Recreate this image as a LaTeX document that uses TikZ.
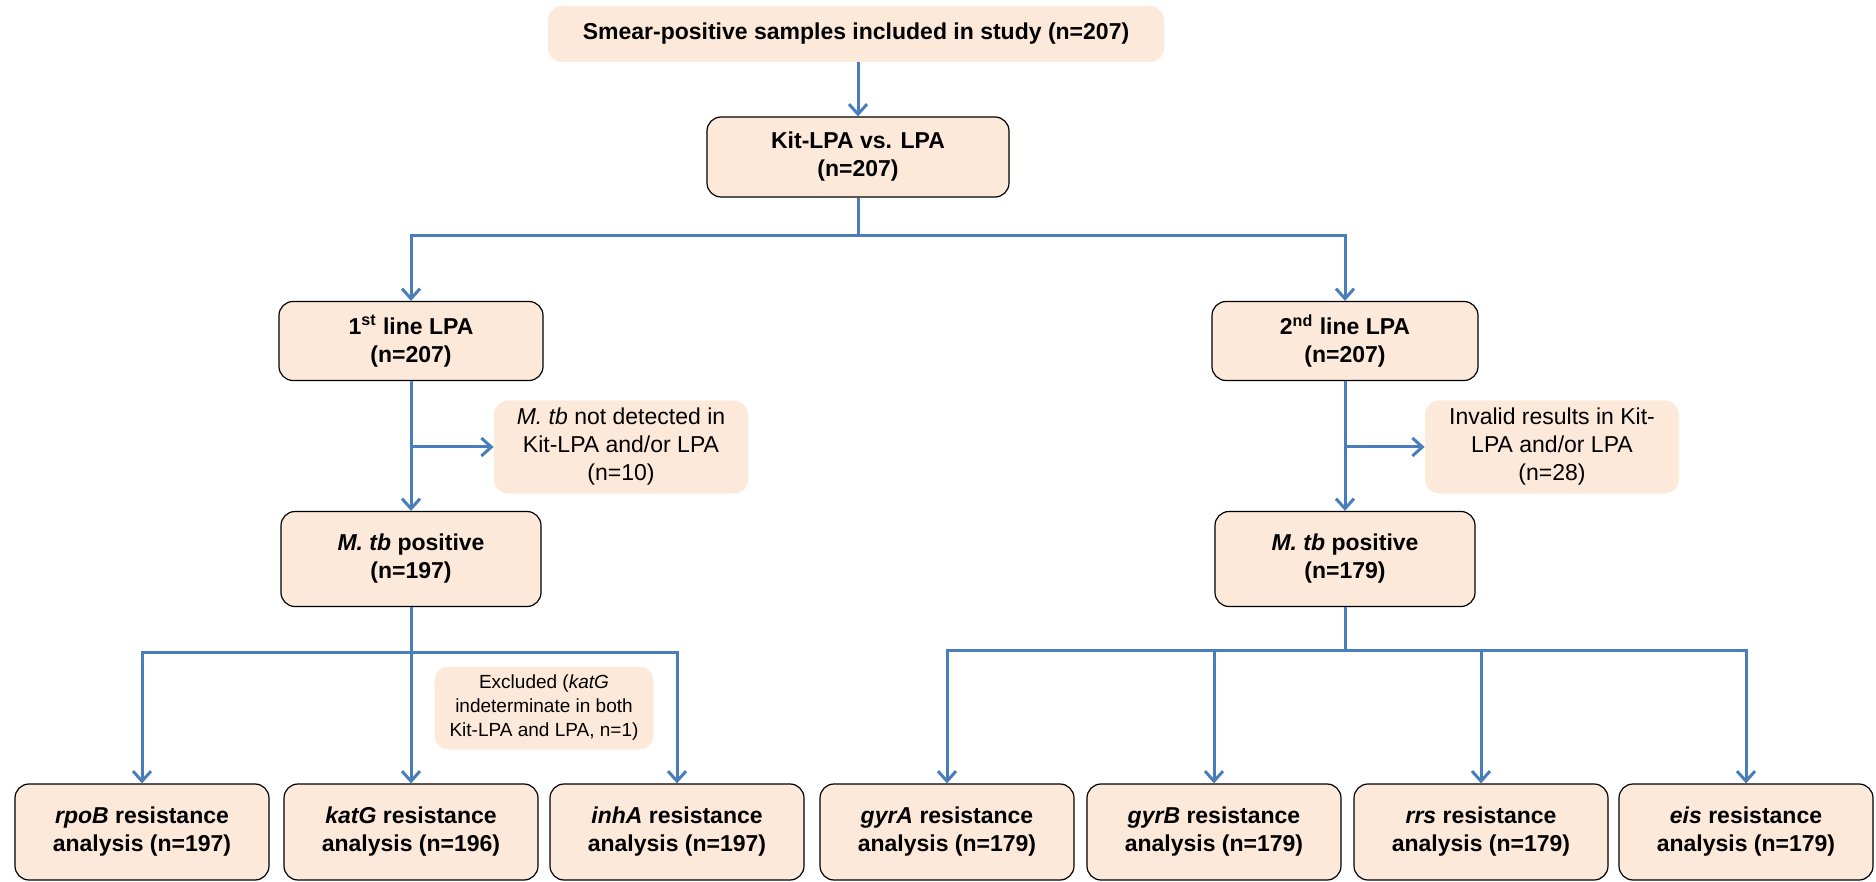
\documentclass[tikz,border=0pt]{standalone}
\usepackage{fontspec}
\setmainfont{Liberation Sans}
\usepackage{tikz}
\usetikzlibrary{arrows.meta}

\definecolor{peach}{RGB}{253,233,217}
\definecolor{flowblue}{RGB}{74,126,187}

\begin{document}
\begin{tikzpicture}[x=0.5pt,y=-0.5pt,
	mainbox/.style = {draw=black, line width=0.6pt, fill=peach, rounded corners=7pt, align=center,
		font=\fontsize{11.5}{14}\selectfont\bfseries, inner sep=0pt},
	notebox/.style = {fill=peach, rounded corners=7pt, align=center,
		font=\fontsize{11.5}{14}\selectfont, inner sep=0pt},
	flow/.style = {draw=flowblue, line width=1.5pt, -{Straight Barb[length=5pt,width=9pt]}},
	trunk/.style = {draw=flowblue, line width=1.5pt}]
	\useasboundingbox (0,0) rectangle (1876,882);
	% top of the chart
	\node[notebox, font=\fontsize{11.5}{14}\selectfont\bfseries, minimum width=308pt, minimum height=28pt] (smear) at (856,34) {Smear-positive samples included in study (n=207)};
	\node[mainbox, minimum width=151pt, minimum height=40pt] (kit) at (858,157) {Kit-LPA vs. LPA\\(n=207)};
	% the two arms
	\node[mainbox, minimum width=132pt, minimum height=39.5pt] (first) at (411,341) {1\textsuperscript{st} line LPA\\(n=207)};
	\node[mainbox, minimum width=133pt, minimum height=39.5pt] (second) at (1345,341) {2\textsuperscript{nd} line LPA\\(n=207)};
	\node[notebox, minimum width=127pt, minimum height=46.5pt] (notdet) at (621,447) {\textit{M. tb} not detected in\\Kit-LPA and/or LPA\\(n=10)};
	\node[notebox, minimum width=127pt, minimum height=46.5pt] (invalid) at (1552,447) {Invalid results in Kit-\\LPA and/or LPA\\(n=28)};
	\node[mainbox, minimum width=130pt, minimum height=47.5pt] (mtbone) at (411,559) {\textit{M. tb} positive\\(n=197)};
	\node[mainbox, minimum width=130pt, minimum height=47.5pt] (mtbtwo) at (1345,559) {\textit{M. tb} positive\\(n=179)};
	\node[notebox, font=\fontsize{9.5}{12}\selectfont, minimum width=109.5pt, minimum height=41.5pt] (excl) at (544,708) {Excluded (\textit{katG}\\indeterminate in both\\Kit-LPA and LPA, n=1)};
	% genes
	\node[mainbox, minimum width=127pt, minimum height=48pt] (rpob) at (142,832) {\textit{rpoB} resistance\\analysis (n=197)};
	\node[mainbox, minimum width=127pt, minimum height=48pt] (katg) at (411,832) {\textit{katG} resistance\\analysis (n=196)};
	\node[mainbox, minimum width=127pt, minimum height=48pt] (inha) at (677,832) {\textit{inhA} resistance\\analysis (n=197)};
	\node[mainbox, minimum width=127pt, minimum height=48pt] (gyra) at (947,832) {\textit{gyrA} resistance\\analysis (n=179)};
	\node[mainbox, minimum width=127pt, minimum height=48pt] (gyrb) at (1214,832) {\textit{gyrB} resistance\\analysis (n=179)};
	\node[mainbox, minimum width=127pt, minimum height=48pt] (rrs) at (1481,832) {\textit{rrs} resistance\\analysis (n=179)};
	\node[mainbox, minimum width=127pt, minimum height=48pt] (eis) at (1746,832) {\textit{eis} resistance\\analysis (n=179)};
	% connectors
	\coordinate (armsplit) at (858,236);
	\coordinate (onesplit) at (411,652);
	\coordinate (twosplit) at (1345,650);
	\draw[flow] (kit.north |- smear.south) -- (kit.north);
	\draw[trunk] (kit) -- (armsplit);
	\draw[flow] (armsplit) -| (first);
	\draw[flow] (armsplit) -| (second);
	\draw[flow] (first) -- (mtbone);
	\draw[flow] (first.south |- notdet.west) -- (notdet.west);
	\draw[flow] (second) -- (mtbtwo);
	\draw[flow] (second.south |- invalid.west) -- (invalid.west);
	\draw[trunk] (mtbone) -- (onesplit);
	\draw[trunk] (mtbtwo) -- (twosplit);
	\foreach \g in {rpob,katg,inha} { \draw[flow] (onesplit) -| (\g); }
	\foreach \g in {gyra,gyrb,rrs,eis} { \draw[flow] (twosplit) -| (\g); }
\end{tikzpicture}
\end{document}
